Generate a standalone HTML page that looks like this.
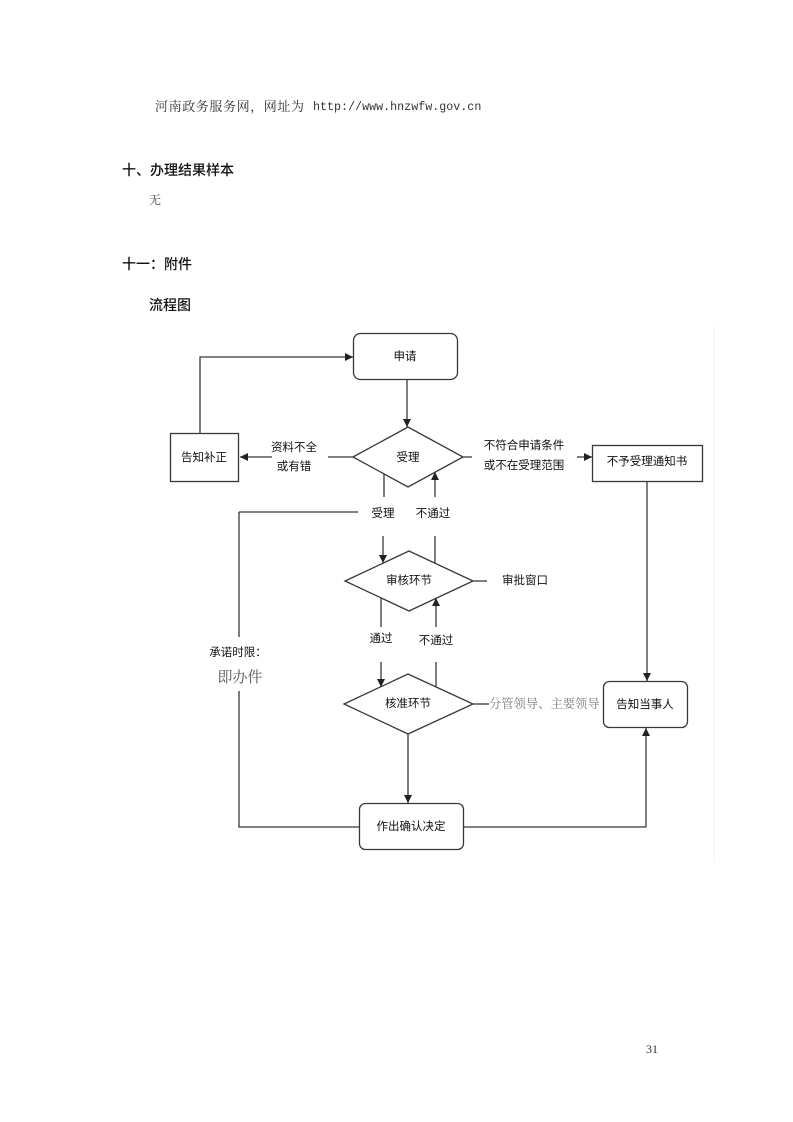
<!DOCTYPE html>
<html>
<head>
<meta charset="utf-8">
<style>
  html,body{margin:0;padding:0;background:#fff;}
  body{width:793px;height:1122px;position:relative;overflow:hidden;}
  .t{position:absolute;white-space:nowrap;}
  .serif{font-family:"Liberation Serif","Noto Serif CJK SC",serif;color:#333;}
  .sans{font-family:"Liberation Sans","Noto Sans CJK SC",sans-serif;color:#111;}
</style>
</head>
<body>
<div class="t serif" style="left:155px;top:98px;font-size:13px;letter-spacing:0.6px;line-height:18px;">河南政务服务网，网址为</div>
<div class="t" style="left:313px;top:98px;font-family:'Liberation Mono',monospace;font-size:11.7px;line-height:18px;color:#333;">http://www.hnzwfw.gov.cn</div>

<div class="t sans" style="left:122px;top:161px;font-size:14px;line-height:18px;font-weight:500;">十、办理结果样本</div>
<div class="t serif" style="left:149px;top:192px;font-size:12px;line-height:16px;color:#444;">无</div>
<div class="t sans" style="left:122px;top:255px;font-size:14px;line-height:18px;font-weight:500;">十一：附件</div>
<div class="t sans" style="left:149px;top:296px;font-size:14px;line-height:18px;font-weight:500;">流程图</div>

<svg width="793" height="1122" style="position:absolute;left:0;top:0;" xmlns="http://www.w3.org/2000/svg">
  <defs>
    <marker id="ah" markerWidth="10" markerHeight="10" refX="8" refY="4.5" orient="auto" markerUnits="userSpaceOnUse">
      <path d="M0,0.5 L8,4.5 L0,8.5 Z" fill="#222"/>
    </marker>
  </defs>
  <line x1="714" y1="326" x2="714" y2="862" stroke="#f2f2f2" stroke-width="1"/>
  <g stroke="#383838" stroke-width="1.3" fill="none">
    <rect x="353.5" y="333.5" width="104" height="46" rx="7" fill="#fff"/>
    <rect x="170.5" y="433.5" width="68" height="48" fill="#fff"/>
    <rect x="592.5" y="445.5" width="110" height="36" fill="#fff"/>
    <rect x="603.5" y="681.5" width="84" height="46" rx="6" fill="#fff"/>
    <rect x="359.5" y="803.5" width="104" height="46" rx="6" fill="#fff"/>
    <polygon points="353,457 408,427 463,457 408,487" fill="#fff"/>
    <polygon points="345,581 409,551 473,581 409,611" fill="#fff"/>
    <polygon points="344,704 408,674 473,704 408,734" fill="#fff"/>
    <line x1="407" y1="380" x2="407" y2="427" marker-end="url(#ah)"/>
    <line x1="353" y1="457" x2="328" y2="457"/>
    <line x1="272" y1="457" x2="240" y2="457" marker-end="url(#ah)"/>
    <polyline points="200,433 200,357 353,357" marker-end="url(#ah)"/>
    <line x1="463" y1="457" x2="472" y2="457"/>
    <line x1="577" y1="457" x2="592" y2="457" marker-end="url(#ah)"/>
    <line x1="384" y1="474" x2="384" y2="497"/>
    <line x1="435" y1="497" x2="435" y2="472" marker-end="url(#ah)"/>
    <line x1="239" y1="512" x2="358" y2="512"/>
    <line x1="239" y1="512" x2="239" y2="637"/>
    <polyline points="239,691 239,827 359,827"/>
    <line x1="383" y1="536" x2="383" y2="563" marker-end="url(#ah)"/>
    <line x1="435" y1="536" x2="435" y2="563"/>
    <line x1="473" y1="581" x2="487" y2="581"/>
    <line x1="381" y1="598" x2="381" y2="627"/>
    <line x1="436" y1="627" x2="436" y2="598" marker-end="url(#ah)"/>
    <line x1="381" y1="662" x2="381" y2="687" marker-end="url(#ah)"/>
    <line x1="436" y1="662" x2="436" y2="687"/>
    <line x1="473" y1="704" x2="489" y2="704"/>
    <line x1="408" y1="734" x2="408" y2="803" marker-end="url(#ah)"/>
    <polyline points="464,827 646,827 646,728" marker-end="url(#ah)"/>
    <line x1="647" y1="482" x2="647" y2="681" marker-end="url(#ah)"/>
  </g>
  <g font-family="Liberation Sans, Noto Sans CJK SC, sans-serif" font-size="11.5" fill="#111" text-anchor="middle" dominant-baseline="central">
    <text x="405" y="357">申请</text>
    <text x="408" y="458">受理</text>
    <text x="204" y="458">告知补正</text>
    <text x="294" y="448">资料不全</text>
    <text x="294" y="467">或有错</text>
    <text x="524" y="446">不符合申请条件</text>
    <text x="524" y="466">或不在受理范围</text>
    <text x="647" y="462">不予受理通知书</text>
    <text x="383" y="514">受理</text>
    <text x="433" y="514">不通过</text>
    <text x="409" y="581">审核环节</text>
    <text x="525" y="581">审批窗口</text>
    <text x="381" y="639">通过</text>
    <text x="436" y="641">不通过</text>
    <text x="408" y="704">核准环节</text>
    <text x="645" y="705">告知当事人</text>
    <text x="411" y="827">作出确认决定</text>
    <text x="238" y="653">承诺时限：</text>
  </g>
  <text x="240" y="678" font-family="Liberation Serif, Noto Serif CJK SC, serif" font-size="15" fill="#555" text-anchor="middle" dominant-baseline="central">即办件</text>
  <text x="489" y="704" font-family="Liberation Serif, Noto Serif CJK SC, serif" font-size="12.3" fill="#777" dominant-baseline="central">分管领导、主要领导</text>
  <text x="652" y="1049" font-family="Liberation Serif, serif" font-size="12" fill="#333" text-anchor="middle" dominant-baseline="central">31</text>
</svg>
</body>
</html>
